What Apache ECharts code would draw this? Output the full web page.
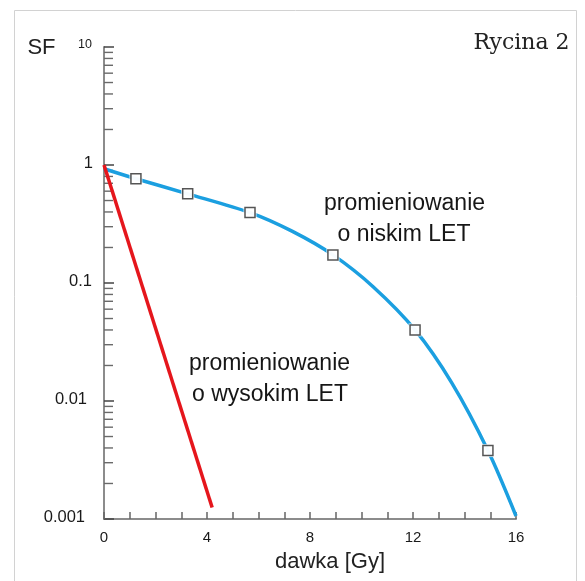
<!DOCTYPE html>
<html><head><meta charset="utf-8">
<script src="https://cdn.jsdelivr.net/npm/echarts@6/dist/echarts.min.js"></script>
<style>html,body{margin:0;padding:0;background:#fff}#c{width:585px;height:581px}</style>
</head><body><div id="c"></div>
<script>
// Low-LET survival curve
const curveDose = [0, 1.24, 3.25, 5.67, 7.3, 8.89, 10.45, 12.08, 13.5, 14.91, 16];
const curveSF   = [0.93, 0.765, 0.57, 0.395, 0.275, 0.173, 0.093, 0.040, 0.0143, 0.0038, 0.00106];
// Measured points (square markers)
const markerDose = [1.24, 3.25, 5.67, 8.89, 12.08, 14.91];
const markerSF   = [0.765, 0.57, 0.395, 0.173, 0.040, 0.0038];
// High-LET line
const highDose = [0, 4.2];
const highSF   = [1, 0.00125];
// Axis labels
const xLabelEvery = 4;
const yTickLabels = ['0.001', '0.01', '0.1', '1', '10'];
const yDecades = [0.001, 0.01, 0.1, 1];
const yMinorMult = [2, 3, 4, 5, 6, 7, 8, 9];

const minorTicks = [];
yDecades.forEach(d => yMinorMult.forEach(m => minorTicks.push([0, d * m])));

const chart = echarts.init(document.getElementById('c'), null, {renderer: 'canvas'});
const F = 'Liberation Sans';
const lab = (size, pr) => ({fontSize: size, fontFamily: F, color: '#1a1a1a', padding: [0, pr, 4, 0]});
chart.setOption({
  animation: false,
  backgroundColor: '#fff',
  grid: {left: 104, right: 69, top: 47, bottom: 62, outerBoundsMode: 'none'},
  xAxis: {
    type: 'value', min: 0, max: 16, interval: 1,
    axisLine: {lineStyle: {color: '#8c8c8c', width: 2}},
    axisTick: {inside: true, length: 7, lineStyle: {color: '#666', width: 1.5}},
    axisLabel: {
      margin: 11, color: '#1a1a1a', fontSize: 15, fontFamily: F,
      formatter: v => (v % xLabelEvery === 0 ? String(v) : '')
    },
    splitLine: {show: false}
  },
  yAxis: {
    type: 'log', logBase: 10, min: 0.001, max: 10,
    axisLine: {lineStyle: {color: '#8c8c8c', width: 2}},
    axisTick: {inside: true, length: 10, lineStyle: {color: '#444', width: 1.5}},
    axisLabel: {
      margin: 11,
      formatter: v => {
        const i = Math.round(Math.log10(v)) + 3;
        return '{r' + i + '|' + yTickLabels[i] + '}';
      },
      rich: {r0: lab(16.5, 8), r1: lab(16.5, 6), r2: lab(16.5, 1), r3: lab(16.5, 0), r4: lab(12.5, 1)}
    },
    splitLine: {show: false}
  },
  series: [
    {
      type: 'custom', coordinateSystem: 'cartesian2d', silent: true, z: 1,
      data: minorTicks,
      renderItem: (params, api) => {
        const p = api.coord([api.value(0), api.value(1)]);
        return {type: 'line', shape: {x1: p[0], y1: p[1], x2: p[0] + 9, y2: p[1]},
                style: {stroke: '#6a6a6a', lineWidth: 1.4}};
      }
    },
    {
      type: 'line', data: curveDose.map((d, i) => [d, curveSF[i]]),
      smooth: 0.3, symbol: 'none',
      lineStyle: {color: '#1b9fe0', width: 3.5}, z: 2
    },
    {
      type: 'line', data: highDose.map((d, i) => [d, highSF[i]]),
      symbol: 'none', lineStyle: {color: '#e5161c', width: 3.5}, z: 2
    },
    {
      type: 'scatter', data: markerDose.map((d, i) => [d, markerSF[i]]),
      symbol: 'rect', symbolSize: 13, itemStyle: {color: '#fff'}, z: 3, silent: true
    },
    {
      type: 'scatter', data: markerDose.map((d, i) => [d, markerSF[i]]),
      symbol: 'rect', symbolSize: 10,
      itemStyle: {color: '#fff', borderColor: '#2b2b2b', borderWidth: 1.5}, z: 4
    }
  ],
  graphic: [
    {type: 'rect', silent: true, z: -10,
     shape: {x: 14.5, y: 10.5, width: 562, height: 620},
     style: {fill: 'none', stroke: '#d2d2d2', lineWidth: 1}},
    {type: 'text', x: 41.5, y: 48,
     style: {text: 'SF', font: '22px "Liberation Sans"', fill: '#222', textAlign: 'center', textVerticalAlign: 'middle'}},
    {type: 'text', x: 521.5, y: 43,
     style: {text: 'Rycina 2', font: '22px "DejaVu Serif"', fill: '#222', textAlign: 'center', textVerticalAlign: 'middle'}},
    {type: 'text', x: 404.5, y: 204,
     style: {text: 'promieniowanie', font: '23px "Liberation Sans"', fill: '#161616', textAlign: 'center', textVerticalAlign: 'middle'}},
    {type: 'text', x: 404, y: 235,
     style: {text: 'o niskim LET', font: '23px "Liberation Sans"', fill: '#161616', textAlign: 'center', textVerticalAlign: 'middle'}},
    {type: 'text', x: 269.5, y: 364,
     style: {text: 'promieniowanie', font: '23px "Liberation Sans"', fill: '#161616', textAlign: 'center', textVerticalAlign: 'middle'}},
    {type: 'text', x: 270, y: 395,
     style: {text: 'o wysokim LET', font: '23px "Liberation Sans"', fill: '#161616', textAlign: 'center', textVerticalAlign: 'middle'}},
    {type: 'text', x: 330, y: 562,
     style: {text: 'dawka [Gy]', font: '22px "Liberation Sans"', fill: '#222', textAlign: 'center', textVerticalAlign: 'middle'}}
  ]
});
</script>
</body></html>
